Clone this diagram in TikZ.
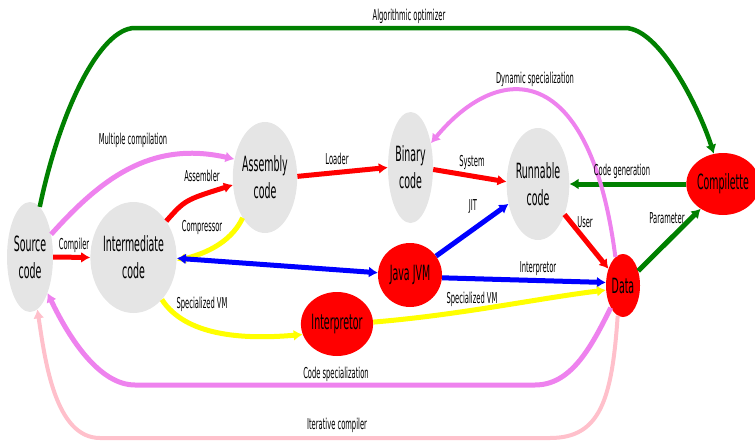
\documentclass[tikz,border=0pt]{standalone}
\usepackage{fontspec}
\setmainfont[FakeStretch=0.45]{DejaVu Sans}
\usetikzlibrary{shapes.geometric,arrows.meta}
\definecolor{cgray}{HTML}{E5E5E5}
\definecolor{cred}{HTML}{FF0000}
\definecolor{cgreen}{HTML}{008000}
\definecolor{cblue}{HTML}{0000FF}
\definecolor{cyellow}{HTML}{FFFF00}
\definecolor{cviolet}{HTML}{EE82EE}
\definecolor{cpink}{HTML}{FFC0CB}
\tikzset{
  graynode/.style={ellipse, fill=cgray, inner sep=0pt, align=center, font=\fontsize{21}{27}\selectfont},
  rednode/.style={ellipse, fill=cred, inner sep=0pt, align=center, font=\fontsize{21}{27}\selectfont},
  conn/.style={line width=5pt, -{Latex[length=9pt,width=11pt]}},
  lbl/.style={inner sep=0pt, font=\fontsize{15}{18}\selectfont}
}
\begin{document}
\begin{tikzpicture}[x=1pt,y=-1pt]
\useasboundingbox (0,0) rectangle (755,442);
% nodes
\node[graynode, minimum width=46pt, minimum height=110pt] (src) at (30,257) {Source\\code};
\node[graynode, minimum width=77pt, minimum height=111pt] (inter) at (133.5,257.5) {Intermediate\\code};
\node[graynode, minimum width=64pt, minimum height=111pt] (asm) at (265,177.5) {Assembly\\code};
\node[graynode, minimum width=45pt, minimum height=111pt] (bin) at (410.5,167.5) {Binary\\code};
\node[graynode, minimum width=60pt, minimum height=112pt] (run) at (538,184) {Runnable\\code};
\node[rednode, minimum width=68pt, minimum height=62pt] (cmp) at (723,184) {Compilette};
\node[rednode, minimum width=34pt, minimum height=63pt] (data) at (623,285.5) {Data};
\node[rednode, minimum width=64pt, minimum height=64pt] (jvm) at (410,275) {Java JVM};
\node[rednode, minimum width=68pt, minimum height=64pt] (interp) at (337,324) {Interpretor};
% connectors
\draw[conn, cgreen, line width=4.5pt] (src.79) .. controls (60,110) and (100,28) .. (135,28) -- (625,28) .. controls (660,28) and (700,110) .. (cmp.107);
\draw[conn, cviolet] (src.47) .. controls (100,180) and (150,140) .. (asm.149);
\draw[conn, cred] (inter.48) .. controls (185,200) .. (asm.193);
\draw[conn, cyellow] (asm.241) .. controls (230,245) and (200,255) .. (inter.-4);
\draw[conn, cred] (src.0) -- (inter.180);
\draw[conn, cred] (asm.2) -- (bin.180);
\draw[conn, cred] (bin.-5) -- (run.176);
\draw[conn, cblue] (jvm.36) -- (run.214);
\draw[conn, cred] (run.-49) -- (data.131);
\draw[conn, cgreen] (cmp.180) -- (run.0);
\draw[conn, cgreen] (data.44) -- (cmp.228);
\draw[conn, cviolet, line width=4pt] (data.105) .. controls (590,60) and (500,60) .. (bin.50);
\draw[conn, cblue, {Latex[length=9pt,width=11pt]}-{Latex[length=9pt,width=11pt]}] (inter.-1) -- (jvm.176);
\draw[conn, cblue] (jvm.-5) -- (data.170);
\draw[conn, cyellow] (inter.-56) .. controls (185,335) and (240,340) .. (interp.197);
\draw[conn, cyellow] (interp.3) .. controls (460,315) and (540,298) .. (data.195);
\draw[conn, cviolet] (data.241) .. controls (590,350) and (570,385) .. (535,385) -- (135,385) .. controls (100,385) and (70,340) .. (src.-64);
\draw[conn, cpink, line width=4pt] (data.260) .. controls (612,400) and (600,438) .. (550,438) -- (100,438) .. controls (55,438) and (45,360) .. (src.-82);
% labels
\node[lbl] (l1) at (409,16) {Algorithmic optimizer};
\node[lbl] (l2) at (133,140) {Multiple compilation};
\node[lbl] (l3) at (202,176) {Assembler};
\node[lbl] (l4) at (202,227) {Compressor};
\node[lbl] (l5) at (74,245) {Compiler};
\node[lbl] (l6) at (337,159) {Loader};
\node[lbl] (l7) at (472,162) {System};
\node[lbl] (l8) at (535,79) {Dynamic specialization};
\node[lbl] (l9) at (622,171) {Code generation};
\node[lbl] (l10) at (473,207) {JIT};
\node[lbl] (l11) at (585,222) {User};
\node[lbl] (l12) at (667,218) {Parameter};
\node[lbl] (l13) at (538,269) {Interpretor};
\node[lbl] (l14) at (472,299) {Specialized VM};
\node[lbl] (l15) at (202,304) {Specialized VM};
\node[lbl] (l16) at (336,374) {Code specialization};
\node[lbl] (l17) at (337,425) {Iterative compiler};
\end{tikzpicture}
\end{document}
